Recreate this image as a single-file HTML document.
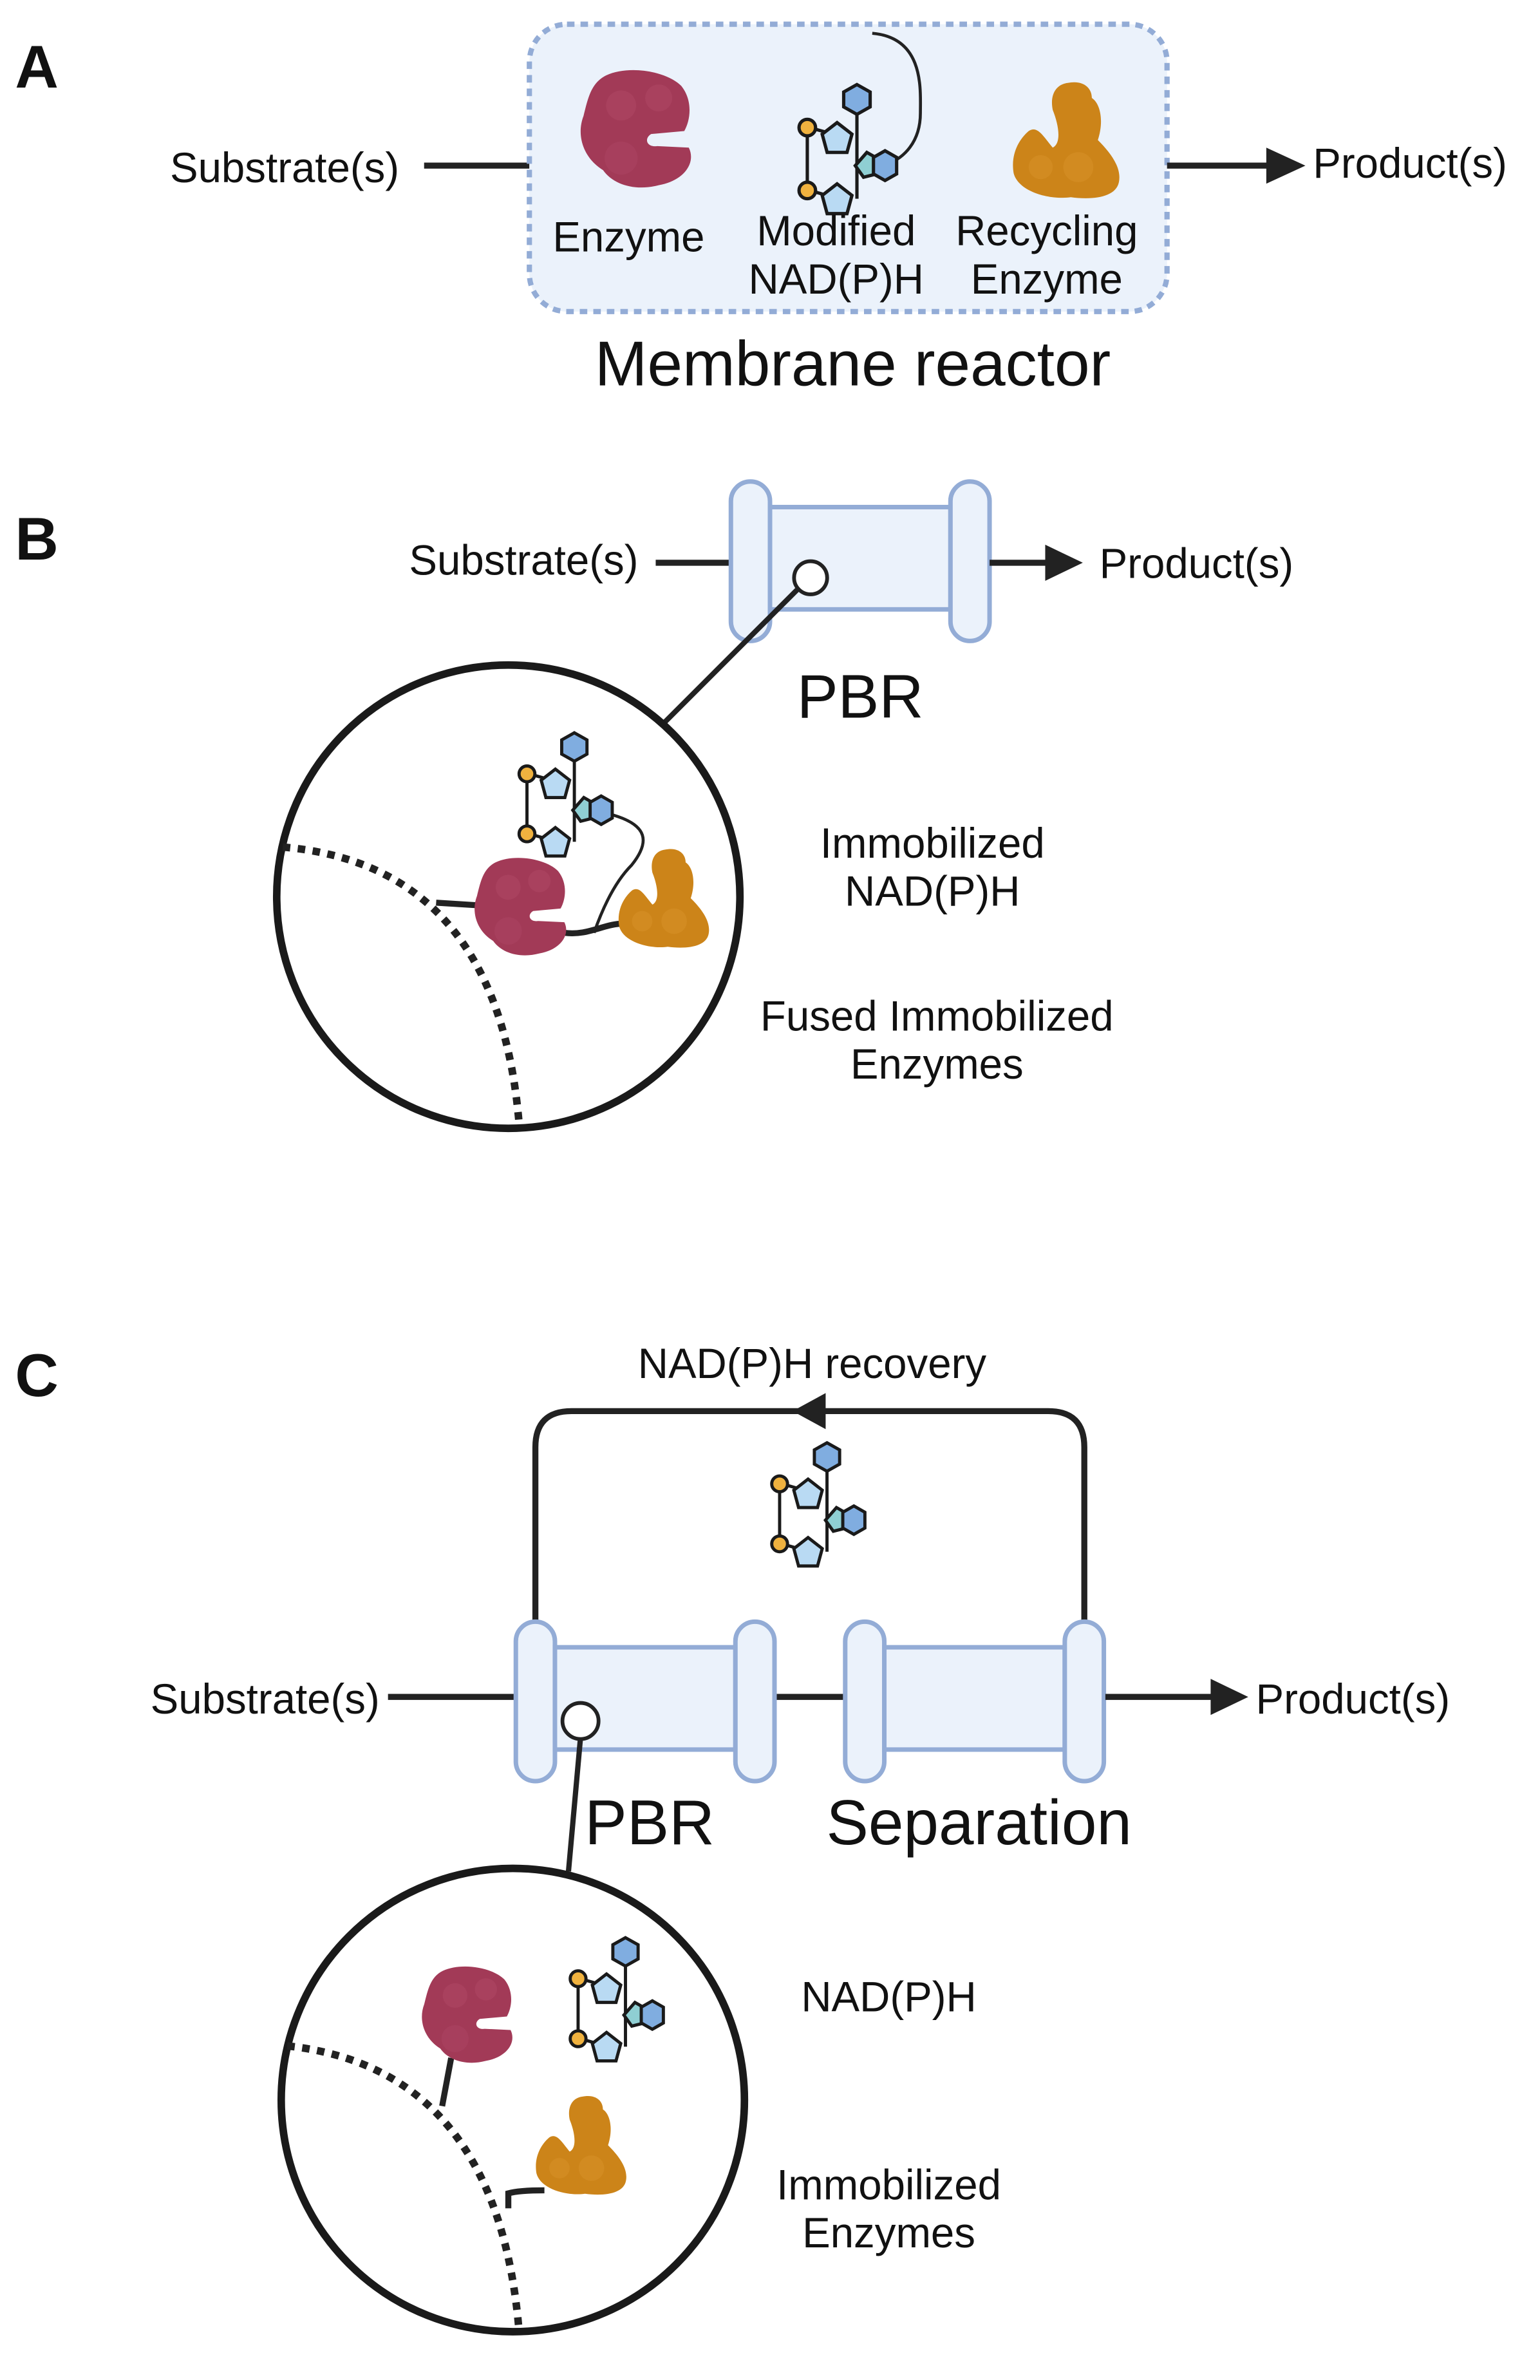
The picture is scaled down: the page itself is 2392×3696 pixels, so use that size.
<!DOCTYPE html>
<html><head><meta charset="utf-8"><style>
html,body{margin:0;padding:0;background:#fff;}
svg{display:block;}
text{font-family:"Liberation Sans",sans-serif;fill:#111;}
</style></head><body>
<svg width="2392" height="3696" viewBox="0 0 1024 1582" xmlns="http://www.w3.org/2000/svg">
<defs>
<g id="mol0">
<line x1="8" y1="27" x2="8" y2="65" stroke="#1a1a1a" stroke-width="2"/>
<line x1="13" y1="28" x2="20" y2="30" stroke="#1a1a1a" stroke-width="2"/>
<line x1="13" y1="66" x2="20" y2="68" stroke="#1a1a1a" stroke-width="2"/>
<line x1="38" y1="18" x2="38" y2="70" stroke="#1a1a1a" stroke-width="2"/>
<polygon points="38,1 46,5.5 46,14.5 38,19 30,14.5 30,5.5" fill="#80ade0" stroke="#1a1a1a" stroke-width="2"/>
<polygon points="26,24 35,31 32,42 20,42 17,31" fill="#b9daf3" stroke="#1a1a1a" stroke-width="2"/>
<polygon points="26,61 35,68 32,79 20,79 17,68" fill="#b9daf3" stroke="#1a1a1a" stroke-width="2"/>
<polygon points="44,42 51,46 50,55 42,57 37,50" fill="#8fcfd3" stroke="#1a1a1a" stroke-width="2"/>
<polygon points="55,41 62,45 62,55 55,59 48,55 48,45" fill="#80ade0" stroke="#1a1a1a" stroke-width="2"/>
<circle cx="8" cy="27" r="5" fill="#f0b23f" stroke="#1a1a1a" stroke-width="2"/>
<circle cx="8" cy="65" r="5" fill="#f0b23f" stroke="#1a1a1a" stroke-width="2"/>
</g>
<g id="mol"><use href="#mol0" transform="scale(1.0)"/></g>
<g id="red">
<path d="M20,5 C35,-2 60,2 70,12 C78,22 76,35 72,42 L50,44 C45,47 47,53 54,52 L75,53 C80,63 72,75 55,78 C40,82 25,78 18,68 C5,60 0,45 5,32 C8,20 10,10 20,5 Z" fill="#a23a57"/>
<circle cx="30" cy="25" r="10" fill="#b04866" opacity=".5"/>
<circle cx="55" cy="20" r="9" fill="#b04866" opacity=".5"/>
<circle cx="30" cy="60" r="11" fill="#b04866" opacity=".4"/>
</g>
<g id="orn">
<path d="M38,2 C48,0 54,5 54,12 C60,16 62,28 58,40 C66,48 74,58 72,68 C70,78 55,80 40,78 C25,80 5,74 2,62 C0,50 5,40 12,34 C18,30 22,38 28,45 C34,42 32,30 28,20 C26,10 30,3 38,2 Z" fill="#cc8419"/>
<circle cx="45" cy="58" r="10" fill="#d8922a" opacity=".5"/>
<circle cx="20" cy="58" r="8" fill="#d8922a" opacity=".5"/>
</g>
<g id="col">
<rect x="0" y="0" width="26" height="106" rx="13" fill="#ebf2fb" stroke="#93acd6" stroke-width="3"/>
<rect x="26" y="17" width="120" height="68" fill="#ebf2fb" stroke="#93acd6" stroke-width="3"/>
<rect x="146" y="0" width="26" height="106" rx="13" fill="#ebf2fb" stroke="#93acd6" stroke-width="3"/>
</g>
</defs>

<!-- Panel A -->
<text x="10" y="58" font-size="40" font-weight="bold">A</text>
<text x="113" y="121" font-size="28">Substrate(s)</text>
<line x1="282" y1="110" x2="352" y2="110" stroke="#222" stroke-width="4"/>
<rect x="352" y="16" width="424" height="191" rx="25" fill="#ebf2fb" stroke="#93acd6" stroke-width="3.5" stroke-dasharray="5,4"/>
<line x1="776" y1="110" x2="845" y2="110" stroke="#222" stroke-width="4"/>
<polygon points="842,98 868,110 842,122" fill="#222"/>
<text x="873" y="118" font-size="28">Product(s)</text>
<use href="#red" x="383" y="45"/>
<path d="M580,22 C615,25 612,60 612,75 C612,95 600,105 592,108" fill="none" stroke="#222" stroke-width="2"/>
<use href="#mol0" transform="translate(528,55) scale(1.1)"/>
<use href="#orn" x="672" y="53"/>
<text x="418" y="167" font-size="28" text-anchor="middle">Enzyme</text>
<text x="556" y="163" font-size="28" text-anchor="middle">Modified</text>
<text x="556" y="195" font-size="28" text-anchor="middle">NAD(P)H</text>
<text x="696" y="163" font-size="28" text-anchor="middle">Recycling</text>
<text x="696" y="195" font-size="28" text-anchor="middle">Enzyme</text>
<text x="567" y="256" font-size="42" text-anchor="middle">Membrane reactor</text>

<!-- Panel B -->
<text x="10" y="372" font-size="40" font-weight="bold">B</text>
<text x="272" y="382" font-size="28">Substrate(s)</text>
<line x1="436" y1="374" x2="486" y2="374" stroke="#222" stroke-width="4"/>
<use href="#col" x="486" y="320"/>
<line x1="658" y1="374" x2="698" y2="374" stroke="#222" stroke-width="4"/>
<polygon points="695,362 720,374 695,386" fill="#222"/>
<text x="731" y="384" font-size="28">Product(s)</text>
<line x1="530" y1="392" x2="441" y2="481" stroke="#222" stroke-width="3.5"/>
<circle cx="539" cy="384" r="11" fill="#fff" stroke="#222" stroke-width="2.5"/>
<text x="572" y="477" font-size="41" text-anchor="middle">PBR</text>
<circle cx="338" cy="596" r="154" fill="none" stroke="#1a1a1a" stroke-width="5"/>
<path d="M188,563 Q330,575 345,745" fill="none" stroke="#222" stroke-width="5" stroke-dasharray="5,5"/>
<path d="M290,600 L322,602" stroke="#222" stroke-width="4"/>
<path d="M375,620 C390,622 400,615 412,614" fill="none" stroke="#222" stroke-width="4"/>
<path d="M395,620 C402,600 410,585 420,575 C432,560 432,548 405,541 L395,539" fill="none" stroke="#222" stroke-width="2"/>
<use href="#mol0" transform="translate(342,486) scale(1.05)"/>
<use href="#red" transform="translate(313,569) scale(0.83)"/>
<use href="#orn" transform="translate(410,563) scale(0.85)"/>
<text x="620" y="570" font-size="28" text-anchor="middle">Immobilized</text>
<text x="620" y="602" font-size="28" text-anchor="middle">NAD(P)H</text>
<text x="623" y="685" font-size="28" text-anchor="middle">Fused Immobilized</text>
<text x="623" y="717" font-size="28" text-anchor="middle">Enzymes</text>

<!-- Panel C -->
<text x="10" y="928" font-size="40" font-weight="bold">C</text>
<text x="540" y="916" font-size="28" text-anchor="middle">NAD(P)H recovery</text>
<path d="M356,1080 L356,962 Q356,938 380,938 L697,938 Q721,938 721,962 L721,1080" fill="none" stroke="#222" stroke-width="4"/>
<polygon points="527,938 549,926 549,950" fill="#222"/>
<use href="#mol0" transform="translate(510,958) scale(1.05)"/>
<text x="100" y="1139" font-size="28">Substrate(s)</text>
<line x1="258" y1="1128" x2="343" y2="1128" stroke="#222" stroke-width="4"/>
<line x1="516" y1="1128" x2="562" y2="1128" stroke="#222" stroke-width="4"/>
<use href="#col" x="343" y="1078"/>
<use href="#col" x="562" y="1078"/>
<line x1="735" y1="1128" x2="808" y2="1128" stroke="#222" stroke-width="4"/>
<polygon points="805,1116 830,1128 805,1140" fill="#222"/>
<text x="835" y="1139" font-size="28">Product(s)</text>
<line x1="386" y1="1155" x2="378" y2="1244" stroke="#222" stroke-width="3.5"/>
<circle cx="386" cy="1144" r="12" fill="#fff" stroke="#222" stroke-width="2.5"/>
<text x="432" y="1226" font-size="42" text-anchor="middle">PBR</text>
<text x="651" y="1226" font-size="42" text-anchor="middle">Separation</text>
<circle cx="341" cy="1396" r="154" fill="none" stroke="#1a1a1a" stroke-width="5"/>
<path d="M191,1360 Q330,1375 345,1548" fill="none" stroke="#222" stroke-width="5" stroke-dasharray="5,5"/>
<path d="M300,1368 L294,1400" stroke="#222" stroke-width="4"/>
<path d="M338,1468 L338,1458 Q345,1456 362,1456" fill="none" stroke="#222" stroke-width="4"/>
<use href="#red" transform="translate(278,1306) scale(0.82)"/>
<use href="#mol0" transform="translate(376,1287) scale(1.05)"/>
<use href="#orn" transform="translate(355,1392) scale(0.85)"/>
<text x="591" y="1337" font-size="28" text-anchor="middle">NAD(P)H</text>
<text x="591" y="1462" font-size="28" text-anchor="middle">Immobilized</text>
<text x="591" y="1494" font-size="28" text-anchor="middle">Enzymes</text>
</svg>
</body></html>
